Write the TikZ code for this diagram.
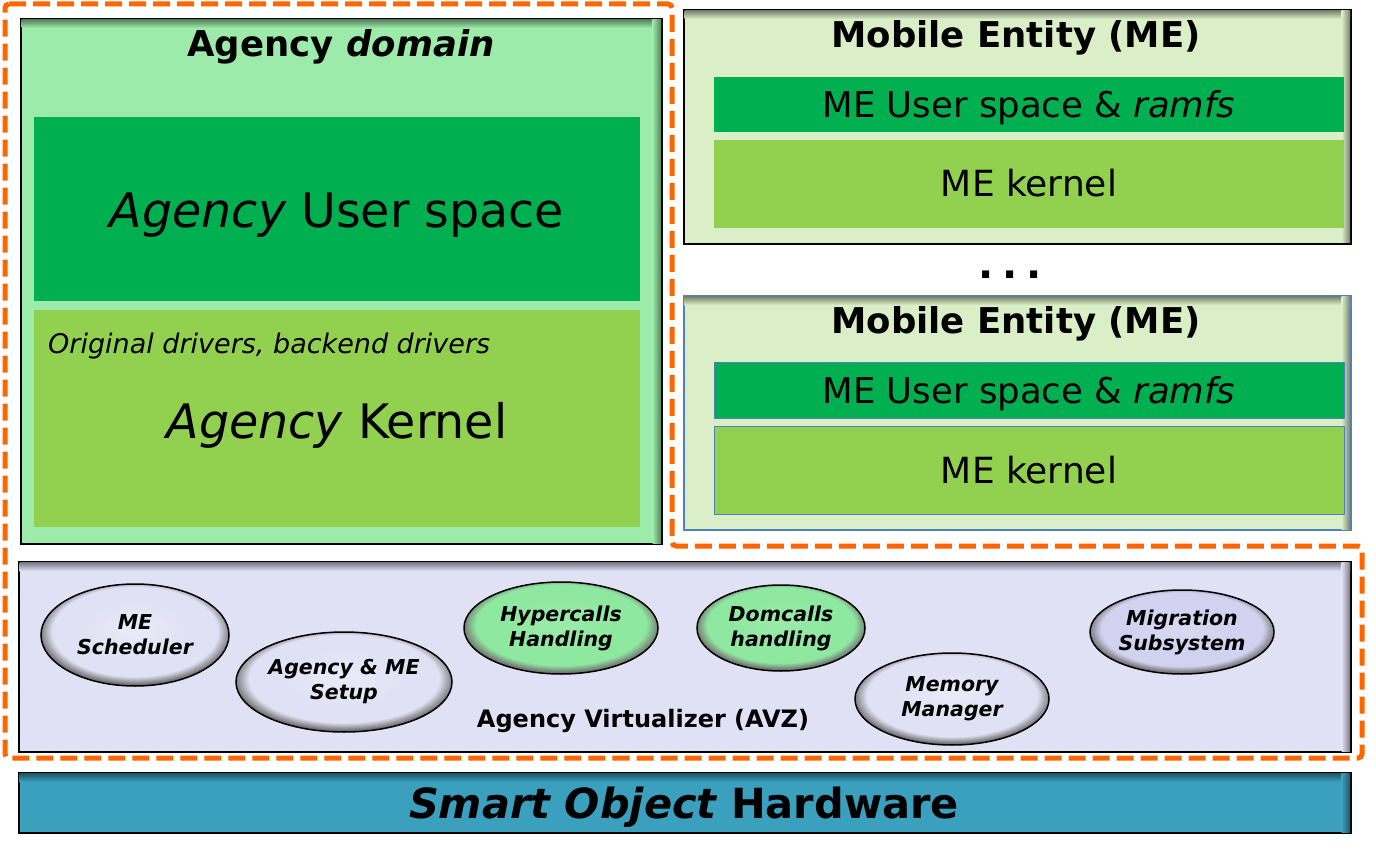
\documentclass[tikz,border=0pt]{standalone}
\usepackage{fontspec}
\setmainfont{DejaVu Sans}
\usetikzlibrary{shapes.geometric}

\definecolor{domgreen}{HTML}{9DEBAA}
\definecolor{usergreen}{HTML}{00B050}
\definecolor{kerngreen}{HTML}{92D050}
\definecolor{mefill}{HTML}{DAEEC7}
\definecolor{meblue}{HTML}{4F81BD}
\definecolor{avzfill}{HTML}{E1E1F5}
\definecolor{callgreen}{HTML}{8FE8A0}
\definecolor{migfill}{HTML}{D2D2F0}
\definecolor{hwblue}{HTML}{3BA0BE}
\definecolor{dashorange}{HTML}{FF6600}
\colorlet{lavin}{avzfill!70!white}
\colorlet{lavout}{black!55}
\colorlet{greenin}{callgreen!90!white}
\colorlet{migin}{migfill!85!white}

\pgfdeclareradialshading{ovlav}{\pgfpoint{0bp}{3bp}}{color(0bp)=(lavin); color(14bp)=(avzfill); color(22bp)=(avzfill); color(25.5bp)=(lavout); color(50bp)=(lavout)}
\pgfdeclareradialshading{ovgreen}{\pgfpoint{0bp}{3bp}}{color(0bp)=(greenin); color(14bp)=(callgreen); color(22bp)=(callgreen); color(25.5bp)=(lavout); color(50bp)=(lavout)}
\pgfdeclareradialshading{ovmig}{\pgfpoint{0bp}{3bp}}{color(0bp)=(migin); color(14bp)=(migfill); color(22bp)=(migfill); color(25.5bp)=(lavout); color(50bp)=(lavout)}

\newcommand{\fsz}[2]{\fontsize{#1}{#2}\selectfont}
% soft shadow inside the top and right edges of a layer box
\newcommand{\edgeshade}[2]{%
  \shade[top color=#2!55!black, bottom color=#2]
    ([xshift=1.5pt,yshift=-1.5pt]#1.north west) rectangle ([xshift=-1.5pt,yshift=-10pt]#1.north east);
  \shade[left color=#2, right color=#2!55!black]
    ([xshift=-10pt,yshift=-1.5pt]#1.north east) rectangle ([xshift=-1.5pt,yshift=1.5pt]#1.south east);
}

\tikzset{
  layerbox/.style={draw=black, line width=1.5pt, inner sep=0pt, anchor=north west},
  fillbox/.style={inner sep=0pt, anchor=north west},
  lbl/.style={inner sep=0pt, anchor=base},
  title/.style={lbl, font=\fsz{35.5}{40}\bfseries},
  svc/.style={ellipse, draw=black, line width=1.5pt, shade, inner sep=0pt, align=center,
    font=\fsz{20.5}{25}\bfseries\itshape},
}

\begin{document}
\begin{tikzpicture}[x=1pt,y=-1pt]
\useasboundingbox (0,0) rectangle (1376,853);

% agency domain
\node[layerbox, fill=domgreen, minimum width=641pt, minimum height=525pt] (dom) at (20,18) {};
\edgeshade{dom}{domgreen}
\node[title] (domtitle) at (341,57) {Agency \itshape domain};
\node[fillbox, fill=usergreen, minimum width=606pt, minimum height=184pt] (agusr) at (34,117) {};
\node[lbl, font=\fsz{47.5}{52}] (agusrlbl) at (337,228) {\itshape Agency\upshape{} User space};
\node[fillbox, fill=kerngreen, minimum width=606pt, minimum height=217pt] (agkern) at (34,310) {};
\node[lbl, font=\fsz{47.5}{52}] (agkernlbl) at (337,438) {\itshape Agency\upshape{} Kernel};
\node[lbl, font=\fsz{27}{32}\itshape, anchor=base west] (drivers) at (48,353) {Original drivers, backend drivers};

% mobile entities
\node[layerbox, fill=mefill, minimum width=667pt, minimum height=234pt] (me1) at (683,9) {};
\edgeshade{me1}{mefill}
\node[title] (me1title) at (1016,48) {Mobile Entity (ME)};
\node[fillbox, fill=usergreen, minimum width=630pt, minimum height=55pt] (me1usr) at (714,77) {};
\node[lbl, font=\fsz{35.5}{40}] (me1usrlbl) at (1029,118) {ME User space \& \itshape ramfs};
\node[fillbox, fill=kerngreen, minimum width=630pt, minimum height=88pt] (me1kern) at (714,140) {};
\node[lbl, font=\fsz{36}{40}] (me1kernlbl) at (1029,197) {ME kernel};

\node[lbl, font=\fsz{40}{44}\bfseries] (dots) at (1010,278) {.\hspace{9pt}.\hspace{9pt}.};

\node[layerbox, draw=meblue, fill=mefill, minimum width=667pt, minimum height=234pt] (me2) at (683,295) {};
\edgeshade{me2}{mefill}
\node[title] (me2title) at (1016,333) {Mobile Entity (ME)};
\node[fillbox, draw=meblue, line width=1.2pt, fill=usergreen, minimum width=630pt, minimum height=56pt] (me2usr) at (714,362) {};
\node[lbl, font=\fsz{35.5}{40}] (me2usrlbl) at (1029,403) {ME User space \& \itshape ramfs};
\node[fillbox, draw=meblue, line width=1.2pt, fill=kerngreen, minimum width=630pt, minimum height=88pt] (me2kern) at (714,426) {};
\node[lbl, font=\fsz{36}{40}] (me2kernlbl) at (1029,483) {ME kernel};

% virtualizer
\node[layerbox, fill=avzfill, minimum width=1332pt, minimum height=190pt] (avz) at (18,561) {};
\edgeshade{avz}{avzfill}
\node[lbl, font=\fsz{24}{28}\bfseries] (avzlbl) at (643,727) {Agency Virtualizer (AVZ)};
\node[svc, shading=ovlav, minimum width=188pt, minimum height=102pt] (sched) at (135,635) {ME\\Scheduler};
\node[svc, shading=ovlav, minimum width=216pt, minimum height=100pt] (setup) at (344,682) {Agency \& ME\\Setup};
\node[svc, shading=ovgreen, minimum width=194pt, minimum height=92pt] (hyper) at (561,628) {Hypercalls\\Handling};
\node[svc, shading=ovgreen, minimum width=168pt, minimum height=86pt] (domcall) at (781,628) {Domcalls\\handling};
\node[svc, shading=ovlav, minimum width=194pt, minimum height=92pt] (memmgr) at (952,699) {Memory\\Manager};
\node[svc, shading=ovmig, minimum width=184pt, minimum height=84pt] (migr) at (1182,632) {Migration\\Subsystem};

% hardware
\node[layerbox, fill=hwblue, minimum width=1332pt, minimum height=60pt] (hw) at (18,772) {};
\edgeshade{hw}{hwblue}
\node[lbl, font=\fsz{41.5}{46}\bfseries] (hwlbl) at (684,818) {\itshape Smart Object\upshape{} Hardware};

% trusted part
\draw[dashorange, line width=5pt, dash pattern=on 17pt off 7pt, rounded corners=4pt]
  (5,4) -- (672,4) -- (672,546) -- (1362,546) -- (1362,758) -- (5,758) -- cycle;
\end{tikzpicture}
\end{document}
